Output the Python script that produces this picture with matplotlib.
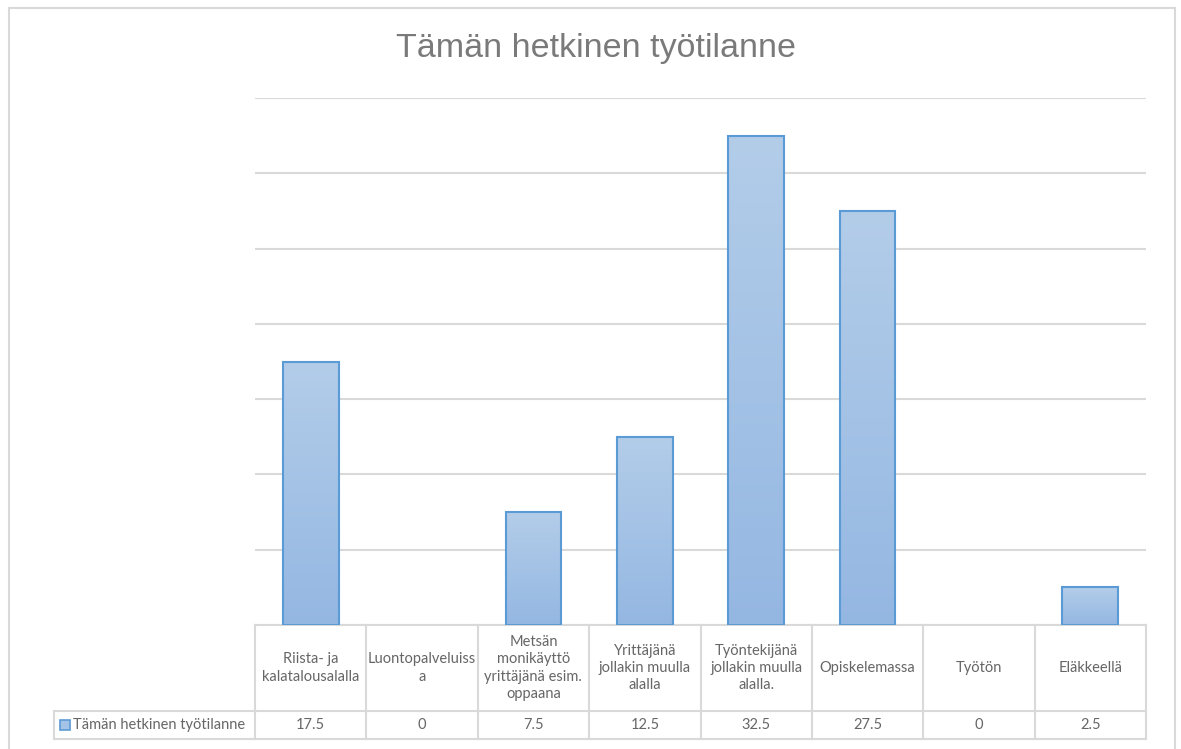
import matplotlib
matplotlib.use("Agg")
import matplotlib.pyplot as plt
import numpy as np
from matplotlib.colors import LinearSegmentedColormap
from matplotlib.patches import Rectangle
from matplotlib.transforms import blended_transform_factory

plt.rcParams['font.family'] = ['Lato', 'DejaVu Sans']

# Datos
otsikko = 'Tämän hetkinen työtilanne'
kategoriat = ['Riista- ja\nkalatalousalalla', 'Luontopalveluiss\na',
              'Metsän\nmonikäyttö\nyrittäjänä esim.\noppaana',
              'Yrittäjänä\njollakin muulla\nalalla',
              'Työntekijänä\njollakin muulla\nalalla.',
              'Opiskelemassa', 'Työtön', 'Eläkkeellä']
arvot = [17.5, 0, 7.5, 12.5, 32.5, 27.5, 0, 2.5]
arvo_tekstit = ['17.5', '0', '7.5', '12.5', '32.5', '27.5', '0', '2.5']

harmaa = '#666666'
viiva = '#d9d9d9'

fig = plt.figure(figsize=(11.81, 7.49), dpi=100)
W, H = 1181, 749

# marco exterior
fig.add_artist(Rectangle((9 / W, -0.05), (1175 - 9) / W, 1 - 8 / H + 0.05,
                         transform=fig.transFigure, fill=False,
                         edgecolor=viiva, linewidth=1.5))

ax = fig.add_axes([255 / W, 1 - 625 / H, (1146 - 255) / W, (625 - 98) / H])
ax.set_yticks(np.arange(0, 36, 5))
ax.yaxis.grid(True, color=viiva, linewidth=1.5)
ax.set_axisbelow(True)
ax.tick_params(left=False, bottom=False, labelleft=False, labelbottom=False)
for s in ax.spines.values():
    s.set_visible(False)

x = np.arange(len(arvot))
leveys = 0.5
pylvaat = ax.bar(x, arvot, leveys, color='none', edgecolor='#5b9bd5',
                 linewidth=1.5, zorder=3)

# degradado en cada barra
cmap = LinearSegmentedColormap.from_list('g', ['#94b7e2', '#b3cde9'])
grad = np.linspace(0, 1, 256).reshape(-1, 1)
for b in pylvaat:
    h = b.get_height()
    if h <= 0:
        b.set_linewidth(0)
        continue
    x0 = b.get_x()
    ax.imshow(grad, cmap=cmap, origin='lower', aspect='auto',
              extent=[x0, x0 + b.get_width(), 0, h], zorder=2)
ax.set_xlim(-0.5, len(arvot) - 0.5)
ax.set_ylim(0, 35)

fig.text(596 / W, 1 - 48 / H, otsikko, ha='center', va='center',
         fontsize=24.5, color='#7a7a7a', family='Liberation Sans')

# tabla de datos
def fy(py):
    return (625 - py) / (625 - 98)

solu = (1146 - 255) / len(arvot)
tr = blended_transform_factory(ax.transData, ax.transAxes)
vasen = -0.5 - (255 - 54) / solu
y_ylä, y_keski, y_ala = fy(625), fy(711), fy(739)
kw = dict(transform=tr, color=viiva, linewidth=1.5, clip_on=False)
ax.plot([-0.5, len(arvot) - 0.5], [y_ylä, y_ylä], **kw)
ax.plot([vasen, len(arvot) - 0.5], [y_keski, y_keski], **kw)
ax.plot([vasen, len(arvot) - 0.5], [y_ala, y_ala], **kw)
ax.plot([vasen, vasen], [y_keski, y_ala], **kw)
for i in range(len(arvot) + 1):
    ax.plot([i - 0.5, i - 0.5], [y_ylä, y_ala], **kw)

for i, (k, a) in enumerate(zip(kategoriat, arvo_tekstit)):
    ax.text(i, (y_ylä + y_keski) / 2, k, transform=tr, ha='center',
            va='center', fontsize=10.5, color=harmaa, linespacing=1.3)
    ax.text(i, (y_keski + y_ala) / 2, a, transform=tr, ha='center',
            va='center', fontsize=10.5, color=harmaa)

yk = (y_keski + y_ala) / 2
ax.add_patch(Rectangle((vasen + 6 / solu, yk - 5 / 527), 10 / solu, 10 / 527,
                       transform=tr, facecolor='#a5c3e6',
                       edgecolor='#5b9bd5', linewidth=1.2, clip_on=False))
ax.text(vasen + 19 / solu, yk, otsikko, transform=tr, ha='left', va='center',
        fontsize=10.5, color=harmaa)

plt.savefig('out.png', dpi=100)
